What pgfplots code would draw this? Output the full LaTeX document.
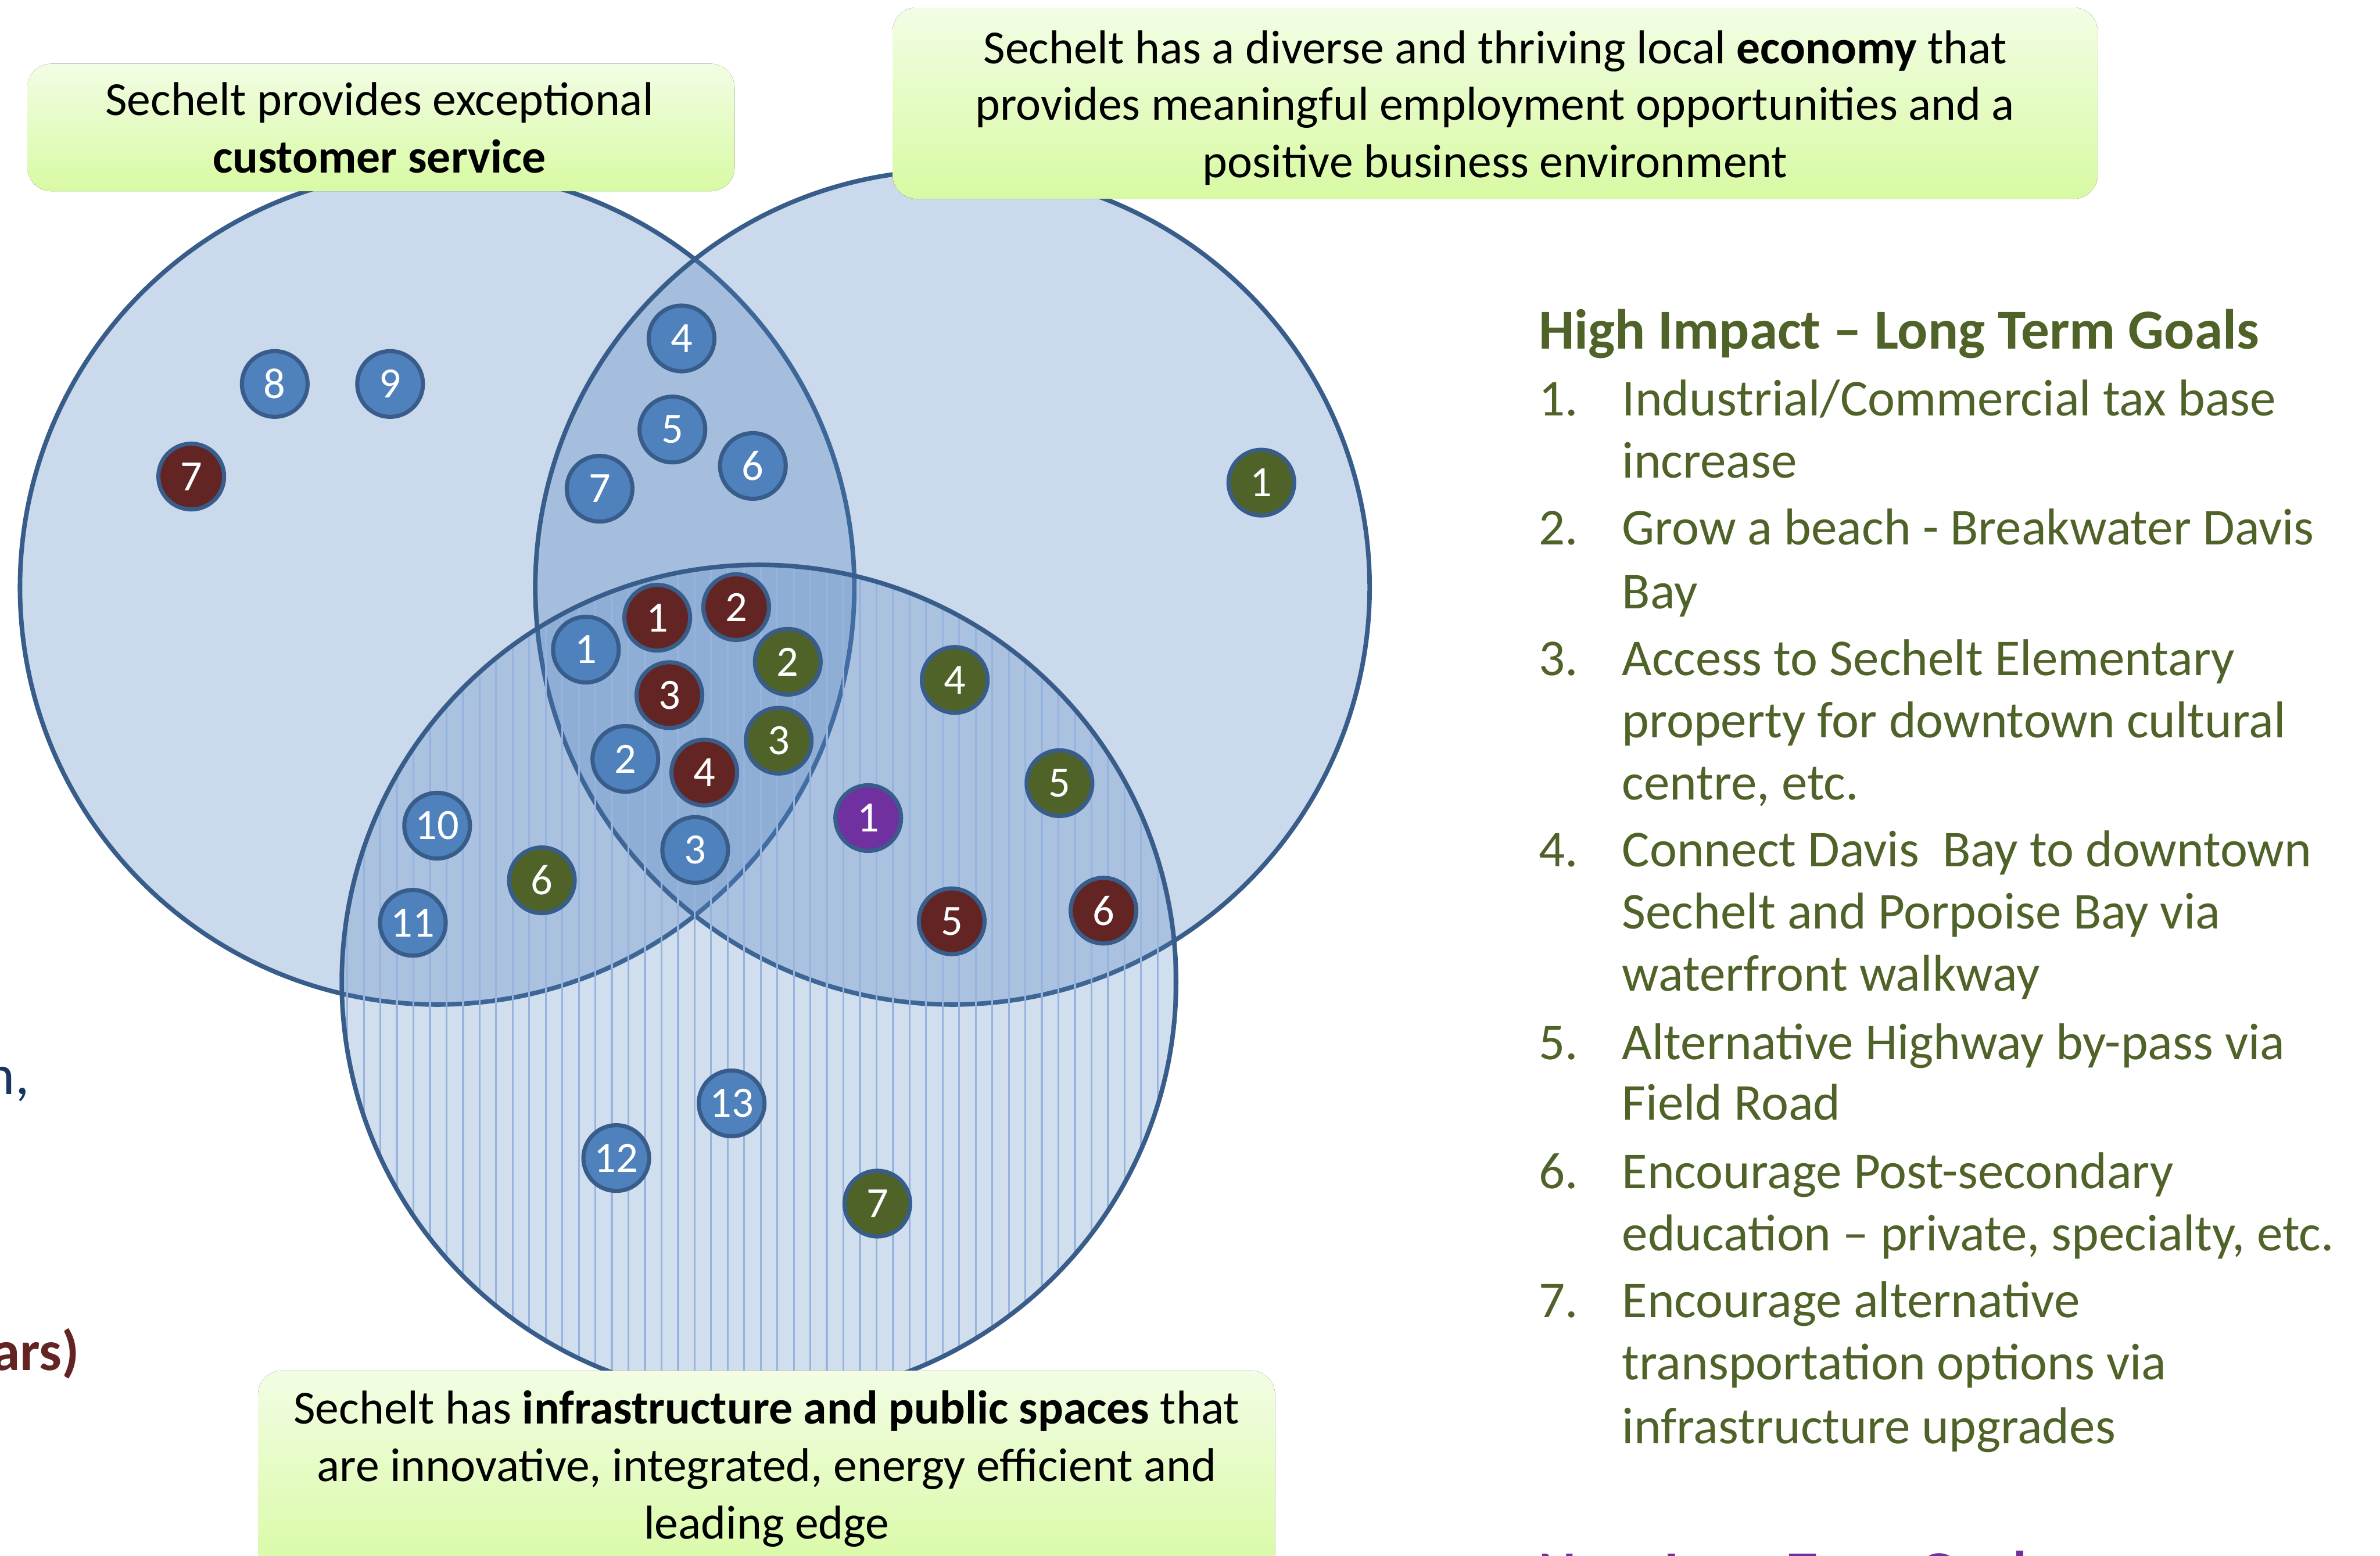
\documentclass[border=0pt]{standalone}
\usepackage{pgfplots}
\pgfplotsset{compat=1.18}
\usepackage{pgfplotstable}
\usetikzlibrary{patterns.meta}
\usepackage{fontspec}
\setmainfont{Carlito}

\definecolor{mblue}{HTML}{4F81BD}
\definecolor{mborder}{HTML}{385D8A}
\definecolor{mred}{HTML}{632523}
\definecolor{mgreen}{HTML}{4F6228}
\definecolor{mpurple}{HTML}{7030A0}
\definecolor{navy}{HTML}{17375E}
\definecolor{stripe}{RGB}{150,180,222}
\definecolor{boxtop}{RGB}{242,253,228}
\definecolor{boxbot}{RGB}{216,250,163}

\newcommand{\boxfont}{\fontsize{8.9}{10.8}\selectfont}
\newcommand{\listfont}{\fontsize{9.7}{11.7}\selectfont}
\newcommand{\headfont}{\fontsize{10.6}{12.7}\selectfont\bfseries}

\pgfplotstableread{
x y lab
181 253 8
257 253 9
449 223 4
443 283 5
496 307 6
395 322 7
386 428 1
412 500 2
458 560 3
288 544 10
272 608 11
406 763 12
482 727 13
}\bluedata
\pgfplotstableread{
x y lab
126 314 7
433 407 1
485 400 2
441 458 3
464 509 4
627 607 5
727 600 6
}\reddata
\pgfplotstableread{
x y lab
831 318 1
519 436 2
513 488 3
629 448 4
698 516 5
357 580 6
578 793 7
}\greendata
\pgfplotstableread{
x y lab
572 539 1
}\purpledata

\tikzset{li/.style={anchor=base west, inner sep=0pt, text=mgreen, font=\listfont}}

\begin{document}
\begin{tikzpicture}
\begin{axis}[hide axis, scale only axis, width=15.68cm, height=10.25cm,
  xmin=0, xmax=1568, ymin=0, ymax=1025, y dir=reverse, clip=false, set layers,
  marker/.style={only marks, mark=*, mark size=6.16pt,
    mark options={fill=#1, draw=mborder, line width=0.77pt},
    nodes near coords, point meta=explicit symbolic,
    nodes near coords align=center,
    every node near coord/.append style={text=white, inner sep=0pt,
      font=\fontsize{8.1}{9.7}\selectfont}}]
% big circles
\addplot[only marks, mark=*, mark size=78.2pt,
  mark options={fill=mblue, fill opacity=0.3, draw=mborder, line width=0.85pt}]
  coordinates {(288,387)};
\addplot[only marks, mark=*, mark size=78.2pt,
  mark options={fill=mblue, fill opacity=0.3, draw=mborder, line width=0.85pt}]
  coordinates {(627.5,387)};
\addplot[only marks, mark=*, mark size=78.2pt,
  mark options={fill=mblue, fill opacity=0.26, draw=none}]
  coordinates {(500,647)};
\addplot[only marks, mark=*, mark size=78.2pt,
  mark options={draw=mborder, line width=0.85pt,
    pattern={Lines[angle=90,distance=3.1pt,line width=0.35pt]}, pattern color=stripe}]
  coordinates {(500,647)};

% markers
\addplot[marker=mblue] table[x=x, y=y, meta=lab] {\bluedata};
\addplot[marker=mred] table[x=x, y=y, meta=lab] {\reddata};
\addplot[marker=mgreen] table[x=x, y=y, meta=lab] {\greendata};
\addplot[marker=mpurple] table[x=x, y=y, meta=lab] {\purpledata};

\begin{pgfonlayer}{axis foreground}
% boxes
\fill[top color=boxtop, bottom color=boxbot, rounded corners=4.5pt]
  (axis cs:18,42) rectangle (axis cs:484,126);
\fill[top color=boxtop, bottom color=boxbot, rounded corners=4.5pt]
  (axis cs:588,5) rectangle (axis cs:1382,131);
\fill[top color=boxtop, bottom color=boxbot, rounded corners=4.5pt]
  (axis cs:170,903) rectangle (axis cs:840,1040);

\node[anchor=base, font=\boxfont] at (axis cs:250,76) {Sechelt provides exceptional};
\node[anchor=base, font=\boxfont] at (axis cs:250,114) {\textbf{customer service}};
\node[anchor=base, font=\boxfont] at (axis cs:985,42) {Sechelt has a diverse and thriving local \textbf{economy} that};
\node[anchor=base, font=\boxfont] at (axis cs:985,79) {provides meaningful employment opportunities and a};
\node[anchor=base, font=\boxfont] at (axis cs:985,117) {positive business environment};
\node[anchor=base, font=\boxfont] at (axis cs:505,938) {Sechelt has \textbf{infrastructure and public spaces} that};
\node[anchor=base, font=\boxfont] at (axis cs:505,976) {are innovative, integrated, energy efficient and};
\node[anchor=base, font=\boxfont] at (axis cs:505,1014) {leading edge};

% right list
\node[anchor=base west, inner sep=0pt, text=mgreen, font=\headfont] at (axis cs:1013,230) {High Impact – Long Term Goals};
\node[li] at (axis cs:1013,274) {1.};
\node[li] at (axis cs:1013,359) {2.};
\node[li] at (axis cs:1013,445) {3.};
\node[li] at (axis cs:1013,571) {4.};
\node[li] at (axis cs:1013,698) {5.};
\node[li] at (axis cs:1013,783) {6.};
\node[li] at (axis cs:1013,868) {7.};
\node[li] at (axis cs:1068,274) {Industrial/Commercial tax base};
\node[li] at (axis cs:1068,315) {increase};
\node[li] at (axis cs:1068,359) {Grow a beach - Breakwater Davis};
\node[li] at (axis cs:1068,401) {Bay};
\node[li] at (axis cs:1068,445) {Access to Sechelt Elementary};
\node[li] at (axis cs:1068,486) {property for downtown cultural};
\node[li] at (axis cs:1068,527) {centre, etc.};
\node[li] at (axis cs:1068,571) {Connect Davis\ \ Bay to downtown};
\node[li] at (axis cs:1068,612) {Sechelt and Porpoise Bay via};
\node[li] at (axis cs:1068,653) {waterfront walkway};
\node[li] at (axis cs:1068,698) {Alternative Highway by-pass via};
\node[li] at (axis cs:1068,738) {Field Road};
\node[li] at (axis cs:1068,783) {Encourage Post-secondary};
\node[li] at (axis cs:1068,824) {education – private, specialty, etc.};
\node[li] at (axis cs:1068,868) {Encourage alternative};
\node[li] at (axis cs:1068,909) {transportation options via};
\node[li] at (axis cs:1068,951) {infrastructure upgrades};
\node[anchor=base west, inner sep=0pt, text=mpurple, font=\headfont] at (axis cs:1013,1048) {Near Long Term Goals};

% cut-off text at left
\node[anchor=base east, inner sep=0pt, text=navy, font=\headfont\mdseries] at (axis cs:20,721) {n,};
\node[anchor=base east, inner sep=0pt, text=mred, font=\headfont] at (axis cs:53,903) {ars)};
\end{pgfonlayer}
\end{axis}
\pgfresetboundingbox
\useasboundingbox (current axis.south west) rectangle (current axis.north east);
\end{tikzpicture}
\end{document}
